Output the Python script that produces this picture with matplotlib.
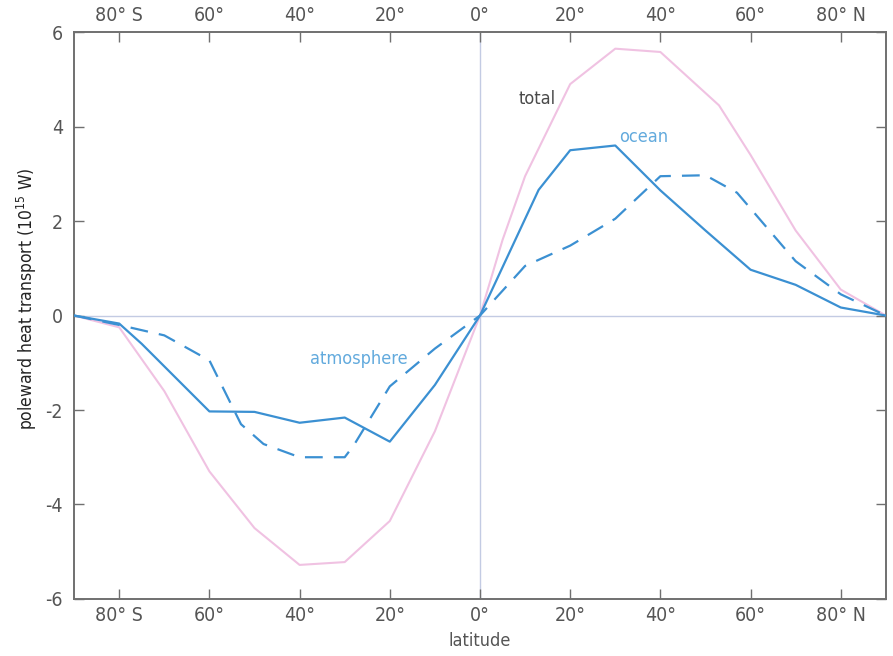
import numpy as np
import matplotlib.pyplot as plt

# latitude (deg, south negative) and poleward heat transport (10^15 W)
lat_total = [-90, -80, -70, -60, -50, -40, -30, -20, -10, 0, 5, 10, 20, 30, 40, 53, 60, 70, 80, 90]
total = [0, -0.25, -1.6, -3.3, -4.5, -5.28, -5.22, -4.35, -2.45, 0, 1.6, 2.95, 4.9, 5.65, 5.58, 4.45, 3.4, 1.8, 0.55, 0]

lat_ocean = [-90, -80, -75, -60, -50, -40, -30, -20, -10, 0, 13, 20, 30, 40, 50, 60, 70, 80, 90]
ocean = [0, -0.17, -0.6, -2.03, -2.04, -2.27, -2.16, -2.67, -1.47, 0, 2.66, 3.5, 3.6, 2.65, 1.8, 0.97, 0.65, 0.17, 0]

lat_atmos = [-90, -80, -70, -60, -53, -48, -40, -30, -28, -20, -10, 0, 10, 20, 30, 40, 50, 57, 70, 80, 90]
atmos = [0, -0.2, -0.42, -0.95, -2.3, -2.72, -3.0, -3.0, -2.75, -1.5, -0.7, 0, 1.05, 1.48, 2.05, 2.95, 2.97, 2.6, 1.15, 0.45, 0]

xticks = [-80, -60, -40, -20, 0, 20, 40, 60, 80]
xlabels = ['80° S', '60°', '40°', '20°', '0°', '20°', '40°', '60°', '80° N']
yticks = [-6, -4, -2, 0, 2, 4, 6]

plt.rcParams['font.family'] = ['DejaVu Sans']
plt.rcParams['font.stretch'] = 'condensed'
plt.rcParams['axes.unicode_minus'] = False

blue = '#3b90d2'
label_blue = '#62aadd'
pink = '#f0c2e2'
frame = '#707070'
txt = '#555555'

fig = plt.figure(figsize=(8.93, 6.56), dpi=100)
ax = fig.add_axes([0.083, 0.087, 0.909, 0.864])

ax.axhline(0, color='#c3cbe3', lw=1.0, zorder=1)
ax.axvline(0, color='#c3cbe3', lw=1.0, zorder=1)

ax.plot(lat_total, total, color=pink, lw=1.5, zorder=2)
ax.plot(lat_atmos, atmos, color=blue, lw=1.6, dashes=(8, 5), zorder=3)
ax.plot(lat_ocean, ocean, color=blue, lw=1.6, zorder=4)

ax.text(12.7, 4.58, 'total', color='#4a4a4a', fontsize=13, ha='center', va='center')
ax.text(36.3, 3.77, 'ocean', color=label_blue, fontsize=13, ha='center', va='center')
ax.text(-26.9, -0.92, 'atmosphere', color=label_blue, fontsize=13, ha='center', va='center')

ax.set_xlim(-90, 90)
ax.set_ylim(-6, 6)
ax.set_xticks(xticks)
ax.set_xticklabels(xlabels)
ax.set_yticks(yticks)

ax.tick_params(axis='x', direction='in', top=True, bottom=True, labeltop=True,
               length=7, width=1, color=frame, labelsize=14, labelcolor=txt, pad=5)
ax.tick_params(axis='y', direction='in', left=True, right=True,
               length=7, width=1, color=frame, labelsize=14, labelcolor=txt, pad=8)
for s in ax.spines.values():
    s.set_color(frame)
    s.set_linewidth(1.4)

ax.set_xlabel('latitude', fontsize=13, color=txt, labelpad=5)
ax.set_ylabel('poleward heat transport (10$^{15}$ W)', fontsize=12.5, color='#222222')
ax.yaxis.set_label_coords(-0.043, 0.53)

fig.savefig('out.png', dpi=100)
